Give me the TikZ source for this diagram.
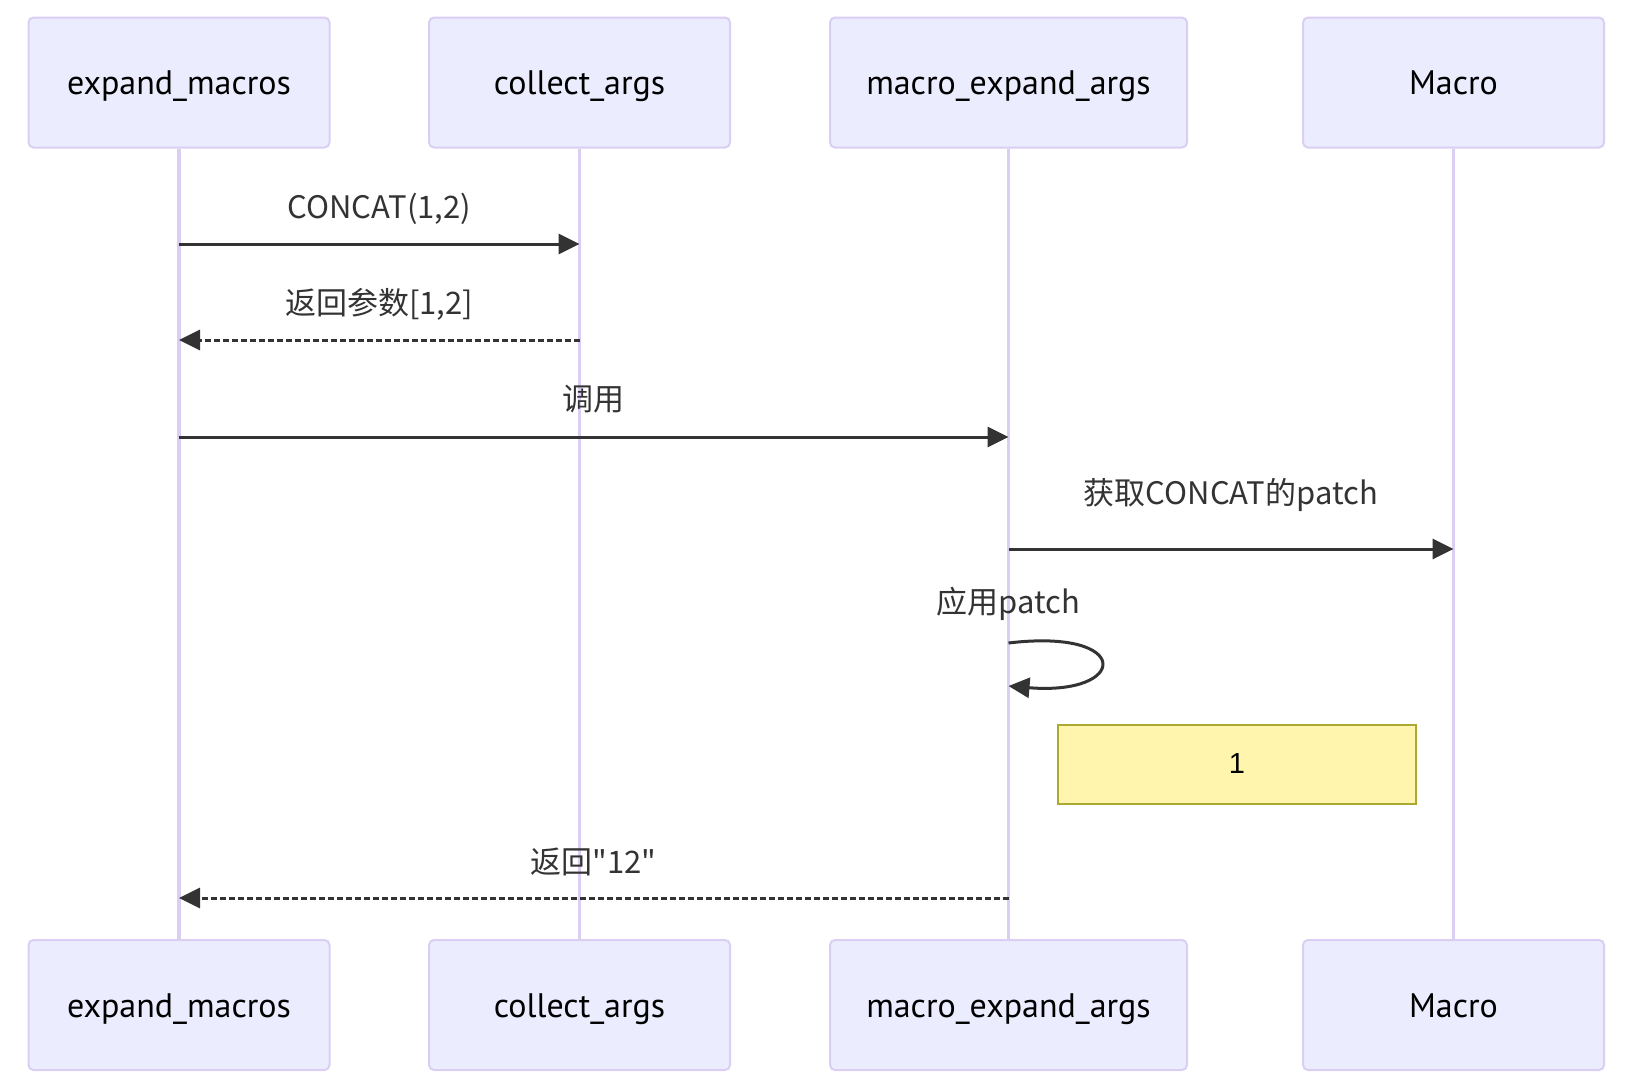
\documentclass[tikz,border=0pt]{standalone}
\usepackage{fontspec}
\setmainfont{PT Sans}
\newfontfamily\cjkfont{Noto Sans CJK SC}
\newfontfamily\notefont{Liberation Sans}
\usetikzlibrary{arrows.meta,positioning,calc}
\definecolor{actorfill}{HTML}{ECECFF}
\definecolor{actorbd}{HTML}{DACEF3}
\definecolor{msgink}{HTML}{333333}
\definecolor{notefill}{HTML}{FFF5AD}
\definecolor{notebd}{HTML}{AAAA33}
\tikzset{
  actorbox/.style={rectangle,rounded corners=5pt,draw=actorbd,line width=2pt,
    fill=actorfill,text=black,align=center,font=\fontsize{34}{40}\selectfont,
    minimum height=130pt,minimum width=301pt,inner sep=0pt,
    text height=24pt,text depth=0pt},
  lifeline/.style={draw=actorbd,line width=3.5pt},
  msgarr/.style={-{Triangle[length=21pt,width=20pt]},line width=3pt,color=msgink},
  retarr/.style={msgarr,dash pattern=on 5.5pt off 3.5pt},
  msglabel/.style={font=\cjkfont\fontsize{31}{36}\selectfont,text=msgink,inner sep=0pt},
  notebox/.style={rectangle,draw=notebd,line width=2pt,fill=notefill,text=black,
    font=\notefont\fontsize{29}{34}\selectfont,minimum width=358pt,minimum height=79pt},
}
\begin{document}
\begin{tikzpicture}[x=1pt,y=-1pt]
  \useasboundingbox (0,0) rectangle (1630,1092);
  % actors
  \node[actorbox] (em) at (179,82.5) {expand\_macros};
  \node[actorbox] (ca) at (579.5,82.5) {collect\_args};
  \node[actorbox,minimum width=357pt] (mea) at (1008.5,82.5) {macro\_expand\_args};
  \node[actorbox] (mc) at (1453.5,82.5) {Macro};
  \node[actorbox] (emb) at (179,1005) {expand\_macros};
  \node[actorbox] (cab) at (579.5,1005) {collect\_args};
  \node[actorbox,minimum width=357pt] (meab) at (1008.5,1005) {macro\_expand\_args};
  \node[actorbox] (mcb) at (1453.5,1005) {Macro};
  \foreach \a in {em,ca,mea,mc}
    \draw[lifeline] (\a.south) -- (\a b.north);

  % message rows
  \coordinate (r1) at (0,244);
  \coordinate (r2) at (0,340);
  \coordinate (r3) at (0,437);
  \coordinate (r4) at (0,549);
  \coordinate (r5) at (0,643);
  \coordinate (r6) at (0,686);
  \coordinate (r7) at (0,898);

  \draw[msgarr] (em |- r1) -- (ca |- r1) node[midway,yshift=35pt,msglabel]{CONCAT(1,2)};
  \draw[retarr] (ca |- r2) -- (em |- r2) node[midway,yshift=36pt,msglabel]{返回参数[1,2]};
  \draw[msgarr] (em |- r3) -- (mea |- r3) node[midway,yshift=38pt,msglabel]{调用};
  \draw[msgarr] (mea |- r4) -- (mc |- r4) node[midway,yshift=54pt,msglabel]{获取CONCAT的patch};
  \node[msglabel,above=22pt of {mea |- r5}] (selflbl) {应用patch};
  \draw[msgarr] (mea |- r5) .. controls +(125,-15) and +(120,10) .. (mea |- r6);
  \node[notebox] (nt) at (1237,764) {1};
  \draw[retarr] (mea |- r7) -- (em |- r7) node[midway,yshift=36pt,msglabel]{返回"12"};
\end{tikzpicture}
\end{document}
